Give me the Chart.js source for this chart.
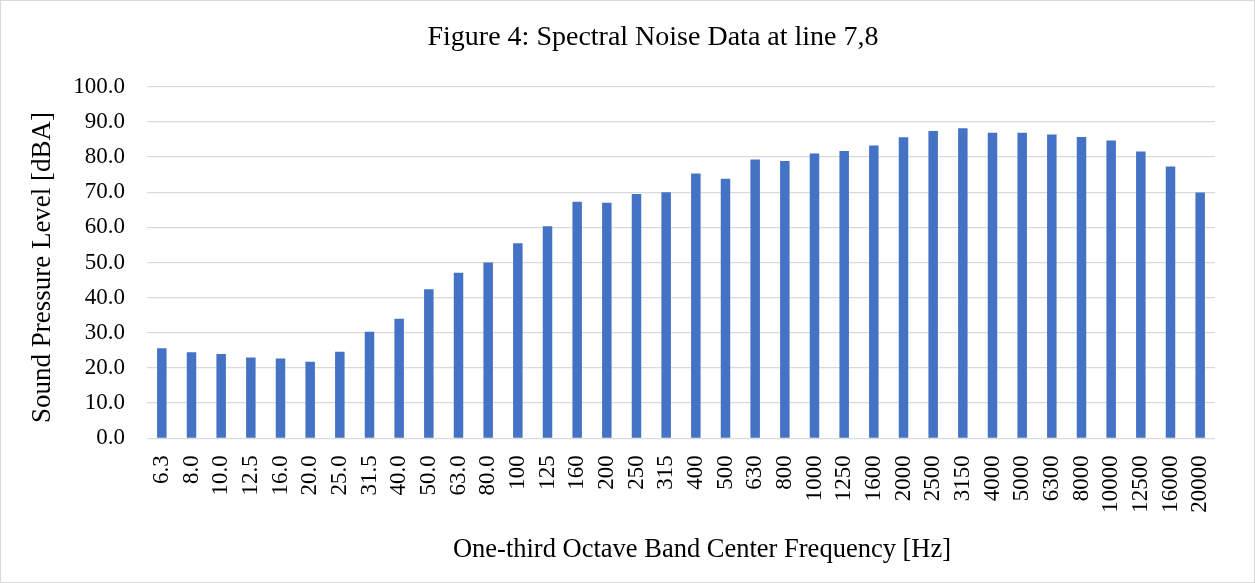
<!DOCTYPE html>
<html>
<head>
<meta charset="utf-8">
<script src="https://cdn.jsdelivr.net/npm/chart.js@4"></script>
<style>
  html, body { margin: 0; padding: 0; background: #fff; }
  #wrap { position: absolute; left: 0; top: 0; width: 1253px; height: 581px; border: 1px solid #d9d9d9; }
</style>
</head>
<body>
<div id="wrap"><canvas id="c" width="1253" height="581"></canvas></div>
<script>
const categories = ["6.3","8.0","10.0","12.5","16.0","20.0","25.0","31.5","40.0","50.0","63.0","80.0","100","125","160","200","250","315","400","500","630","800","1000","1250","1600","2000","2500","3150","4000","5000","6300","8000","10000","12500","16000","20000"];
const levels = [25.6,24.5,24.0,23.0,22.7,21.8,24.6,30.3,34.0,42.4,47.1,50.0,55.5,60.3,67.3,67.0,69.5,70.0,75.3,73.8,79.3,78.9,81.0,81.7,83.3,85.6,87.4,88.2,86.9,86.9,86.4,85.7,84.7,81.6,77.3,69.9];
const yTicks = [0,10,20,30,40,50,60,70,80,90,100];
const titleText = "Figure 4: Spectral Noise Data at line 7,8";
const yTitle = "Sound Pressure Level [dBA]";
const xTitle = "One-third Octave Band Center Frequency [Hz]";

const serif = "'Liberation Serif', 'Times New Roman', serif";

// Draws the chart title and axis titles at their Excel-like (off-centre) positions
const titlesPlugin = {
  id: 'titles',
  afterDraw(chart) {
    const ctx = chart.ctx;
    ctx.save();
    ctx.fillStyle = '#000';
    ctx.textAlign = 'center';
    ctx.textBaseline = 'middle';
    ctx.font = "28px " + serif;
    ctx.fillText(titleText, 652, 37);
    ctx.font = "26.5px " + serif;
    ctx.fillText(xTitle, 701, 549.4);
    ctx.translate(41.6, 266.5);
    ctx.rotate(-Math.PI / 2);
    ctx.font = "27px " + serif;
    ctx.fillText(yTitle, 0, 0);
    ctx.restore();
  }
};

new Chart(document.getElementById('c'), {
  type: 'bar',
  data: {
    labels: categories,
    datasets: [{ data: levels, backgroundColor: '#4472c4', borderWidth: 0, barPercentage: 0.32, categoryPercentage: 1.0 }]
  },
  options: {
    responsive: false,
    animation: false,
    layout: { padding: { left: 0, right: 39, top: 85.7, bottom: 0 } },
    plugins: {
      legend: { display: false },
      tooltip: { enabled: false },
      title: { display: false }
    },
    scales: {
      x: {
        grid: { display: false, drawTicks: false },
        border: { display: false },
        ticks: { color: '#000', font: { family: serif, size: 23 }, minRotation: 90, maxRotation: 90, autoSkip: false, padding: 17 },
        title: { display: false, text: xTitle },
        afterFit: s => { s.height = 143.7; }
      },
      y: {
        min: 0, max: 100,
        afterBuildTicks: s => { s.ticks = yTicks.map(v => ({ value: v })); },
        grid: { color: '#d9d9d9', lineWidth: 1.3, drawTicks: false },
        border: { display: false },
        ticks: { color: '#000', font: { family: serif, size: 23 }, padding: 22, callback: v => Number(v).toFixed(1) },
        title: { display: false, text: yTitle },
        afterFit: s => { s.width = 146; }
      }
    }
  },
  plugins: [titlesPlugin]
});
</script>
</body>
</html>
